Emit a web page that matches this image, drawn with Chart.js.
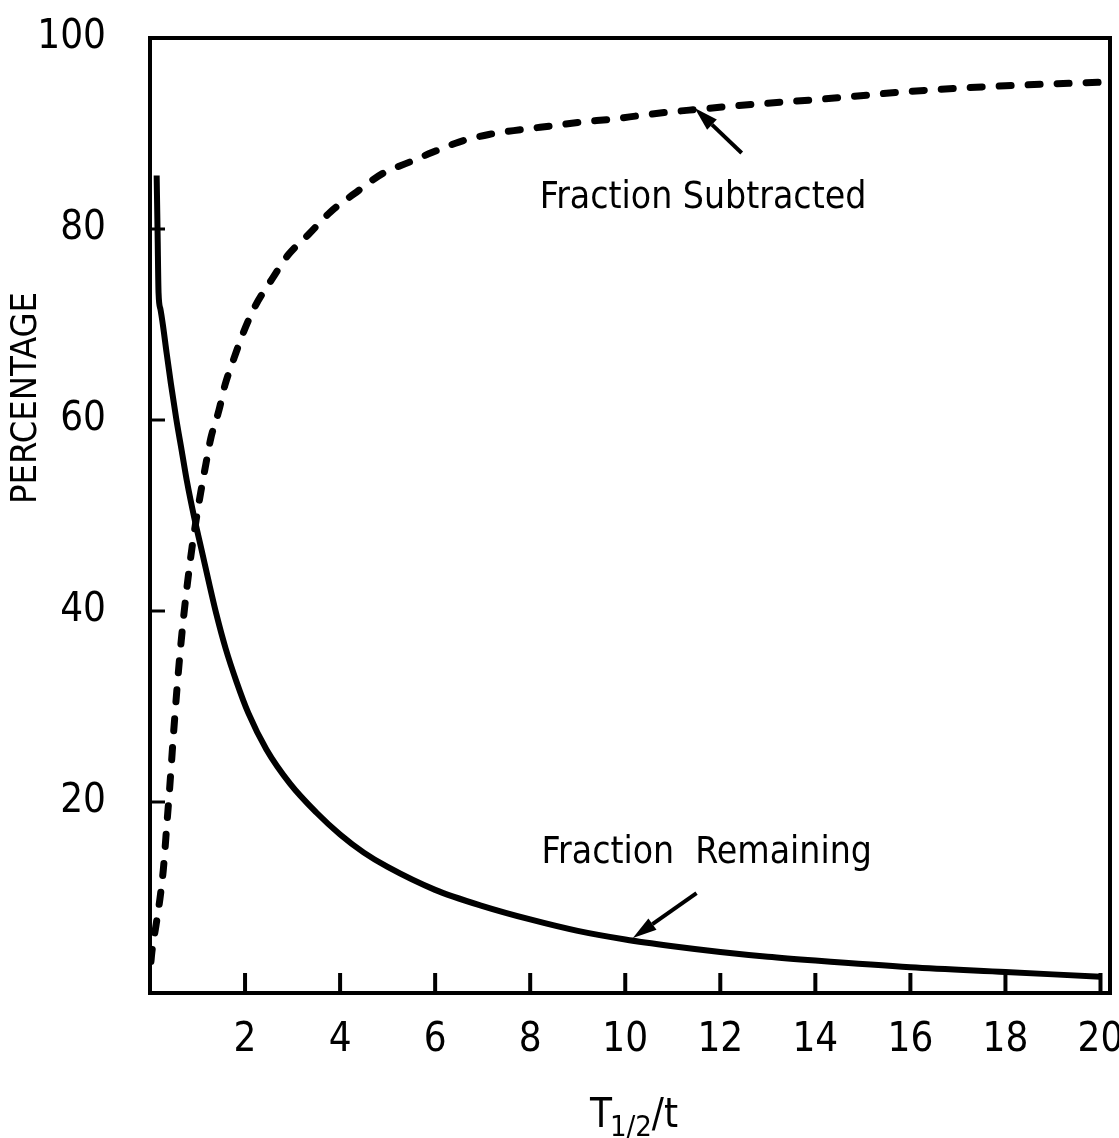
<!DOCTYPE html>
<html><head><meta charset="utf-8">
<script src="https://cdn.jsdelivr.net/npm/chart.js@4.4.0/dist/chart.umd.min.js"></script>
<style>html,body{margin:0;padding:0;background:#fff}</style>
</head><body>
<canvas id="c" width="1119" height="1138"></canvas>
<script>
// ---- data ----
const remainingX = [0.14,0.16,0.18,0.22,0.27,0.35,0.44,0.55,0.67,0.78,0.93,1.09,1.23,1.40,1.59,1.82,2.07,2.45,2.95,3.5,4.0,4.5,5.0,6.0,7.0,8.0,9.0,10,11,12,13,14,16,18,20];
const remainingY = [85.6,79.5,73.3,71.6,70.0,67.0,63.8,60.2,56.7,53.5,49.8,46.3,43.2,39.6,36.1,32.6,29.3,25.5,21.9,18.9,16.6,14.7,13.2,10.8,9.1,7.7,6.5,5.6,4.9,4.3,3.8,3.4,2.7,2.2,1.7];
const subtractedX = [0.02,0.04,0.13,0.21,0.28,0.36,0.41,0.45,0.50,0.57,0.64,0.71,0.79,0.88,0.97,1.07,1.18,1.28,1.45,1.58,1.77,1.96,2.21,2.56,2.91,3.33,3.80,4.30,4.89,5.46,5.93,6.50,7.13,7.80,8.45,9.08,9.71,10.34,10.84,11.46,12.8,14.15,15.97,18.0,20.2];
const subtractedY = [3.3,4.3,7.2,9.9,12.9,18.0,21.2,24.0,27.5,32.0,36.0,39.5,43.0,46.5,49.5,52.5,55.5,58.1,61.0,63.7,66.5,69.1,71.9,74.7,77.3,79.4,81.8,83.7,85.8,87.0,88.0,89.1,89.9,90.4,90.8,91.2,91.5,91.9,92.2,92.5,93.1,93.6,94.4,95.0,95.4];
const xTickValues = [2,4,6,8,10,12,14,16,18,20];
const yTickValues = [0,20,40,60,80,100];
const seriesNames = ['Fraction Remaining','Fraction Subtracted'];
const xTitle = ['T','1/2','/t'];
const yTitle = 'PERCENTAGE';
// annotation labels and arrows (data coordinates)
const annotations = [
  {text:'Fraction Subtracted', x:8.2, y:82.2, tail:[12.45,87.96], head:[11.46,92.67]},
  {text:'Fraction  Remaining', x:8.24, y:13.6, tail:[11.5,10.47], head:[10.16,5.76]}
];

const FONT = "'Liberation Sans Narrow','DejaVu Sans Condensed','Arial Narrow',sans-serif";
const toPts = (xs, ys) => xs.map((v,i)=>({x:v, y:ys[i]}));

const decor = {
  id:'decor',
  afterDraw(chart){
    const {ctx, chartArea:a, scales:{x, y}} = chart;
    ctx.save();
    ctx.strokeStyle = '#000'; ctx.fillStyle = '#000';
    ctx.lineWidth = 4; ctx.lineCap = 'butt';
    ctx.strokeRect(a.left, a.top, a.right - a.left, a.bottom - a.top);
    // inward tick marks
    ctx.lineWidth = 4;
    x.ticks.forEach(t => {
      const px = x.getPixelForValue(t.value);
      ctx.beginPath(); ctx.moveTo(px, a.bottom); ctx.lineTo(px, a.bottom - 20); ctx.stroke();
    });
    ctx.lineWidth = 3;
    y.ticks.forEach(t => {
      if (t.value <= 0 || t.value >= 100) return;
      const py = y.getPixelForValue(t.value);
      ctx.beginPath(); ctx.moveTo(a.left, py); ctx.lineTo(a.left + 15, py); ctx.stroke();
    });
    // annotations
    ctx.font = `37px ${FONT}`;
    ctx.textBaseline = 'alphabetic'; ctx.textAlign = 'left';
    annotations.forEach(an => {
      ctx.fillText(an.text, x.getPixelForValue(an.x), y.getPixelForValue(an.y));
      const tx = x.getPixelForValue(an.tail[0]), ty = y.getPixelForValue(an.tail[1]);
      const hx = x.getPixelForValue(an.head[0]), hy = y.getPixelForValue(an.head[1]);
      const ang = Math.atan2(hy - ty, hx - tx);
      const L = 24, W = 7;
      const bx = hx - L*Math.cos(ang), by = hy - L*Math.sin(ang);
      ctx.lineWidth = 4;
      ctx.beginPath(); ctx.moveTo(tx, ty); ctx.lineTo(bx, by); ctx.stroke();
      ctx.beginPath();
      ctx.moveTo(hx, hy);
      ctx.lineTo(bx + W*Math.sin(ang), by - W*Math.cos(ang));
      ctx.lineTo(bx - W*Math.sin(ang), by + W*Math.cos(ang));
      ctx.closePath(); ctx.fill();
    });
    // x axis title with subscript
    const big = `40px ${FONT}`, small = `29px ${FONT}`;
    ctx.font = big; const w1 = ctx.measureText(xTitle[0]).width, w3 = ctx.measureText(xTitle[2]).width;
    ctx.font = small; const w2 = ctx.measureText(xTitle[1]).width;
    const total = w1 + w2 + w3;
    let cx = (a.left + a.right)/2 + 5 - total/2;
    const base = 1127;
    ctx.font = big; ctx.fillText(xTitle[0], cx, base); cx += w1 - 2;
    ctx.font = small; ctx.fillText(xTitle[1], cx, base + 9); cx += w2;
    ctx.font = big; ctx.fillText(xTitle[2], cx, base);
    // y axis title
    ctx.save();
    ctx.translate(27, 398); ctx.rotate(-Math.PI/2);
    ctx.font = `36px ${FONT}`; ctx.textAlign = 'center'; ctx.textBaseline = 'middle';
    ctx.fillText(yTitle, 0, 0);
    ctx.restore();
    ctx.restore();
  }
};

new Chart(document.getElementById('c'), {
  type:'line',
  data:{
    datasets:[
      {label:seriesNames[0], data:toPts(remainingX, remainingY), borderColor:'#000', borderWidth:6,
       borderJoinStyle:'round', pointRadius:0, cubicInterpolationMode:'monotone', fill:false},
      {label:seriesNames[1], data:toPts(subtractedX, subtractedY), borderColor:'#000', borderWidth:7,
       borderDash:[12,17], borderCapStyle:'round', pointRadius:0, cubicInterpolationMode:'monotone', fill:false}
    ]
  },
  options:{
    responsive:false, animation:false, devicePixelRatio:1,
    layout:{padding:{top:38, right:9, left:0, bottom:0}},
    plugins:{legend:{display:false}, tooltip:{enabled:false}},
    scales:{
      x:{type:'linear', min:0, max:20.2,
        afterBuildTicks: s => { s.ticks = xTickValues.map(v=>({value:v})); },
        afterFit: s => { s.height = 145; s.paddingLeft = 0; s.paddingRight = 0; },
        grid:{display:false, drawTicks:false}, border:{display:false},
        ticks:{color:'#000', font:{family:FONT, size:40}, padding:24, maxRotation:0, autoSkip:false}
      },
      y:{type:'linear', min:0, max:100,
        afterBuildTicks: s => { s.ticks = yTickValues.map(v=>({value:v})); },
        afterFit: s => { s.width = 150; s.paddingTop = 0; s.paddingBottom = 0; },
        grid:{display:false, drawTicks:false}, border:{display:false},
        ticks:{color:'#000', font:{family:FONT, size:40}, padding:44,
          callback: v => v === 0 ? '' : String(v)}
      }
    }
  },
  plugins:[decor]
});
</script>
</body></html>
